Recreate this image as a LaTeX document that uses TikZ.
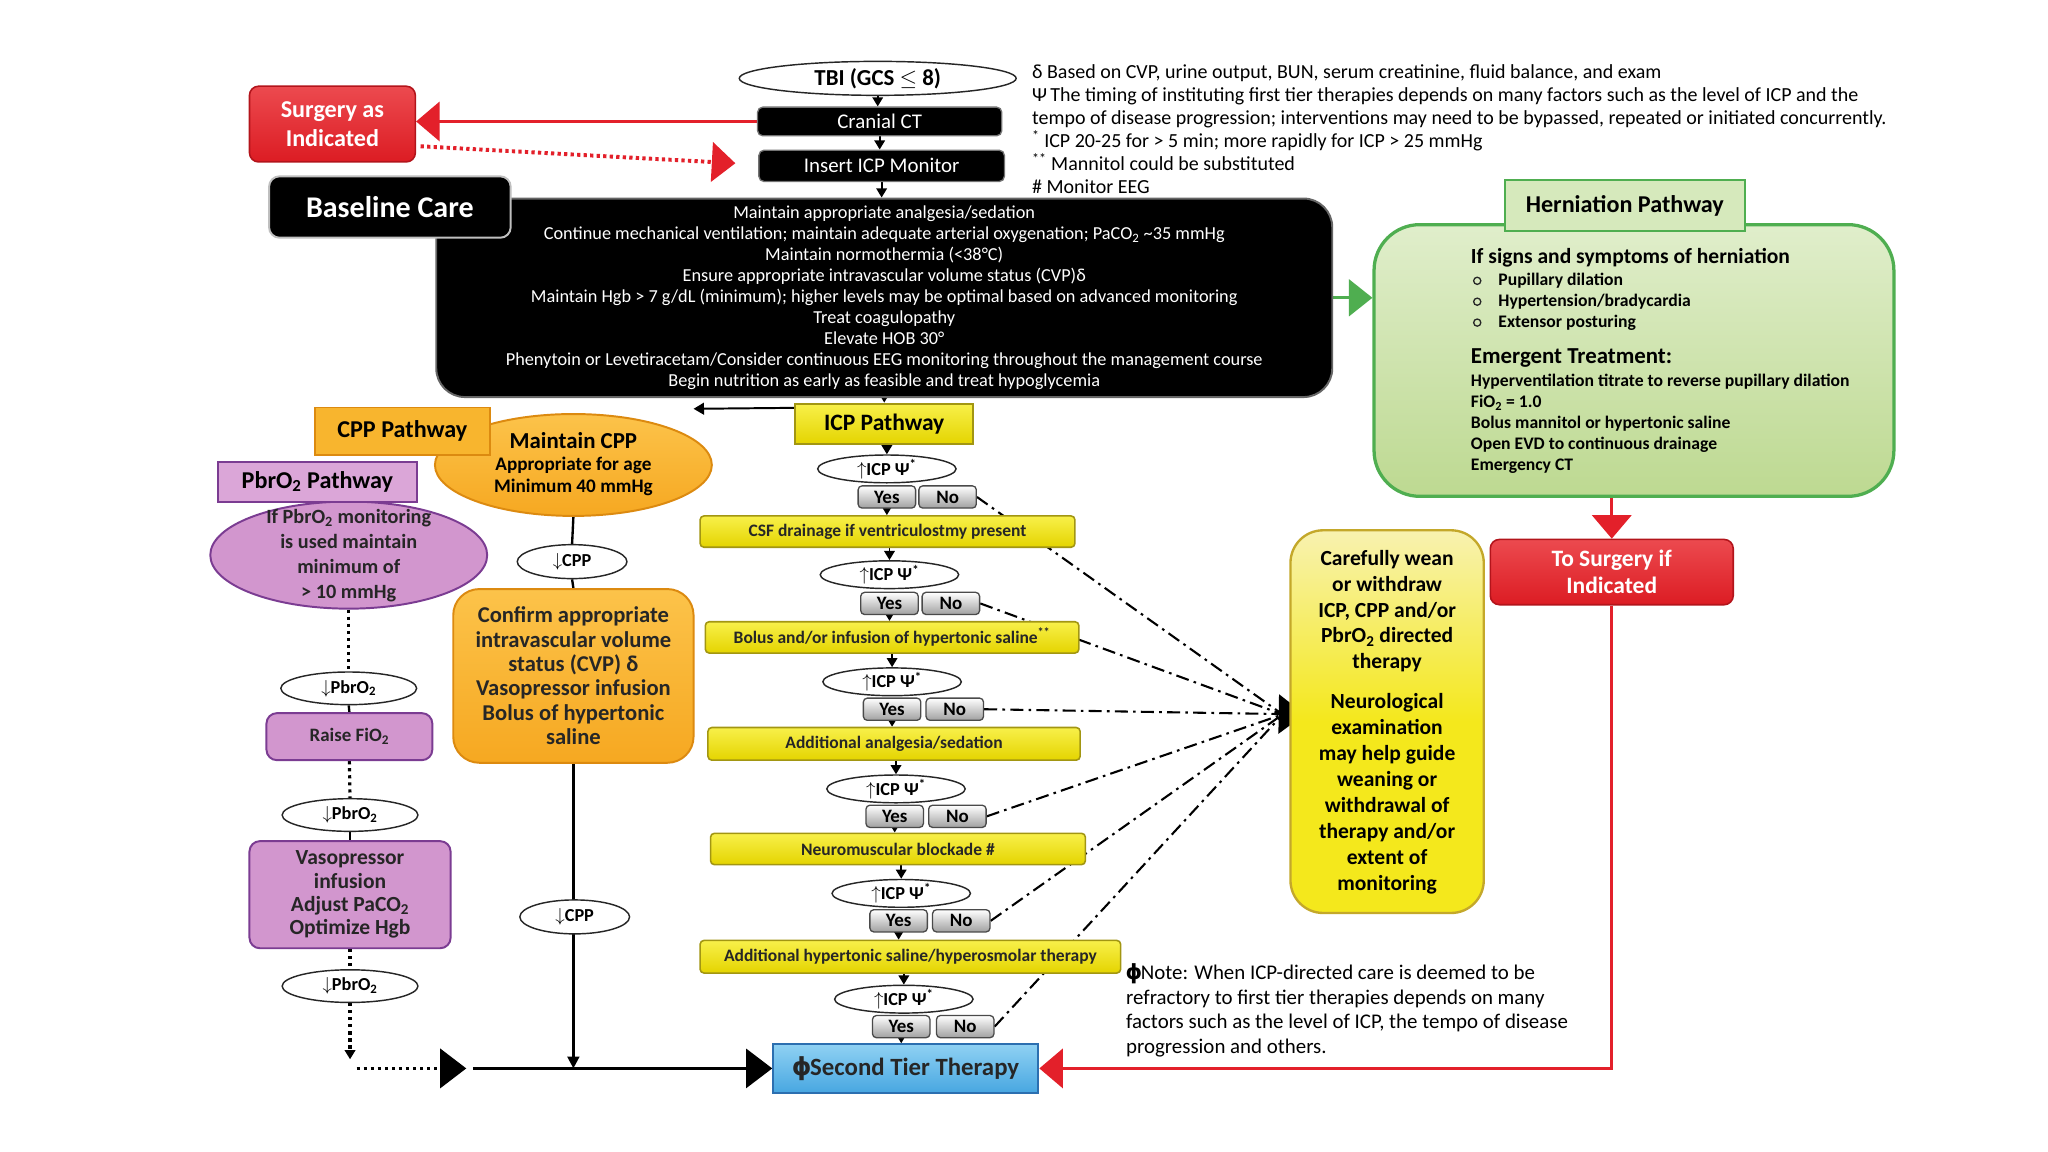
\documentclass[tikz,border=0pt]{standalone}
\usepackage{fontspec}
\setmainfont{Carlito}
\newfontfamily\djv{DejaVu Sans}
\usetikzlibrary{shapes.geometric,arrows.meta,calc}
\pgfdeclarelayer{bgwhite}
\pgfdeclarelayer{lines}
\pgfsetlayers{bgwhite,lines,main}
\newcommand{\fsz}[2]{\fontsize{#1}{#2}\selectfont}
\newcommand{\subtwo}{\textsubscript{2}}
\newcommand{\phisym}{{\djv\bfseries\kern-0.5pt ϕ\kern-1pt}}
\definecolor{redT}{HTML}{EC4A4F}
\definecolor{redB}{HTML}{DC1C23}
\definecolor{redD}{HTML}{B3141B}
\definecolor{redL}{HTML}{E3202A}
\definecolor{ylT}{HTML}{F8F04A}
\definecolor{ylB}{HTML}{E4D400}
\definecolor{ylD}{HTML}{A29612}
\definecolor{ylP}{HTML}{F8F2B0}
\definecolor{ylW}{HTML}{F4E81C}
\definecolor{ylWD}{HTML}{C4A82A}
\definecolor{ynB}{HTML}{A0A0A0}
\definecolor{ynD}{HTML}{4A4A4A}
\definecolor{orgT}{HTML}{FCC34A}
\definecolor{orgB}{HTML}{F6A821}
\definecolor{orgD}{HTML}{DC8A10}
\definecolor{orgL}{HTML}{F8B52E}
\definecolor{purF}{HTML}{D296CE}
\definecolor{purL}{HTML}{DBA6D8}
\definecolor{purD}{HTML}{7B3C92}
\definecolor{grnT}{HTML}{E0EECB}
\definecolor{grnB}{HTML}{BDD991}
\definecolor{grnD}{HTML}{4FAE50}
\definecolor{grnLab}{HTML}{D6E9BC}
\definecolor{bluT}{HTML}{8FD1F3}
\definecolor{bluB}{HTML}{48A7E1}
\definecolor{bluD}{HTML}{2C6FB0}
\tikzset{
 bx/.style={inner sep=0pt, align=center},
 blk/.style={bx, fill=black, draw=black!55, line width=1pt, rounded corners=4pt, text=white, font=\fsz{16}{18}},
 redbox/.style={bx, top color=redT, bottom color=redB, draw=redD, line width=1.2pt, rounded corners=7pt, text=white, font=\bfseries\fsz{18.5}{22}},
 ybar/.style={bx, top color=ylT, bottom color=ylB, draw=ylD, line width=1.2pt, rounded corners=3pt, font=\bfseries\fsz{13.4}{15}, text=black!85},
 yn/.style={bx, top color=white, bottom color=ynB, draw=ynD, line width=1pt, rounded corners=3pt, minimum width=44, minimum height=17, font=\bfseries\fsz{14.5}{15}},
 oval/.style={bx, ellipse, draw=black!85, line width=1.1pt, fill=white},
 icpe/.style={oval, minimum width=106, minimum height=20, font=\bfseries\fsz{14}{15}},
 pbre/.style={oval, minimum width=104, minimum height=25, font=\bfseries\fsz{14}{15}},
 cppe/.style={oval, minimum width=84, minimum height=26, font=\bfseries\fsz{14}{15}},
 purbox/.style={bx, fill=purF, draw=purD, line width=1.5pt, rounded corners=8pt, font=\bfseries\fsz{16.5}{17.8}, text=black!85},
 orgfill/.style={top color=orgT, bottom color=orgB, draw=orgD, line width=1.5pt},
 labbox/.style={bx, line width=1.5pt, font=\bfseries\fsz{18.5}{20}},
 txtw/.style={inner sep=0pt, anchor=west, align=left},
 fnote/.style={txtw, font=\fsz{15.3}{17.6}},
 htext/.style={txtw, font=\bfseries\fsz{13.5}{16.2}},
 conn/.style={line width=1.5pt, -{Triangle[length=7pt,width=8pt]}},
 solidln/.style={line width=1.8pt},
 dotln/.style={line width=2.4pt, dash pattern=on 2.4pt off 3pt},
 ddot/.style={line width=1.6pt, dash pattern=on 10pt off 4pt on 2pt off 4pt},
 bigblk/.style={-{Triangle[length=20pt,width=30pt]}},
 redln/.style={line width=2.4pt, draw=redL},
 bigred/.style={-{Triangle[length=18pt,width=30pt]}},
}
\begin{document}
\begin{tikzpicture}[x=1pt,y=-1pt]
\useasboundingbox (0,0) rectangle (1568,882);
\begin{pgfonlayer}{bgwhite}
\fill[white] (0,0) rectangle (1568,882);
\end{pgfonlayer}

% ---------- top ----------
\node[oval, minimum width=212, minimum height=26, font=\bfseries\fsz{17.5}{20}] (tbi) at (672,60) {TBI (GCS $\leq$ 8)};
\node[blk, minimum width=187, minimum height=22] (ct) at (673.5,93) {Cranial CT};
\node[blk, minimum width=188, minimum height=24] (ins) at (675,127) {Insert ICP Monitor};
\node[redbox, minimum width=127, minimum height=58] (surg) at (254.5,95) {Surgery as\\Indicated};

\node[fnote] (fn) at (790,99) {δ Based on CVP, urine output, BUN, serum creatinine, fluid balance, and exam\\
Ψ\,The timing of instituting first tier therapies depends on many factors such as the level of ICP and the\\
tempo of disease progression; interventions may need to be bypassed, repeated or initiated concurrently.\\
\textsuperscript{*} ICP 20-25 for > 5 min; more rapidly for ICP > 25 mmHg\\
\textsuperscript{**} Mannitol could be substituted\\
\# Monitor EEG};

% ---------- baseline ----------
\node[bx, fill=black, draw=black!60, line width=1.5pt, rounded corners=22pt, minimum width=686, minimum height=152, text=white, font=\fsz{14}{16.1}] (base) at (677,228) {Maintain appropriate analgesia/sedation\\
Continue mechanical ventilation; maintain adequate arterial oxygenation; PaCO\subtwo{} \textasciitilde35 mmHg\\
Maintain normothermia (<38°C)\\
Ensure appropriate intravascular volume status (CVP)δ\\
Maintain Hgb > 7 g/dL (minimum); higher levels may be optimal based on advanced monitoring\\
Treat coagulopathy\\
Elevate HOB 30°\\
Phenytoin or Levetiracetam/Consider continuous EEG monitoring throughout the management course\\
Begin nutrition as early as feasible and treat hypoglycemia};
\node[blk, rounded corners=8pt, minimum width=185, minimum height=47, font=\bfseries\fsz{23}{26}, draw=black!25, line width=1.5pt] (bcare) at (298.5,158.5) {Baseline Care};

% ---------- herniation ----------
\node[bx, rounded corners=35pt, minimum width=398, minimum height=208, top color=grnT, bottom color=grnB, draw=grnD, line width=2.5pt] (hern) at (1251,276) {};
\node[labbox, minimum width=184, minimum height=39, fill=grnLab, draw=grnD] (hlab) at (1244,157.5) {Herniation Pathway};
\node[txtw, font=\bfseries\fsz{16.5}{18}] (hsig) at (1126,197) {If signs and symptoms of herniation};
\node[circle, draw=black!85, line width=1pt, minimum size=5.5, inner sep=0pt] (hb1) at (1131,215) {};
\node[circle, draw=black!85, line width=1pt, minimum size=5.5, inner sep=0pt] (hb2) at (1131,231) {};
\node[circle, draw=black!85, line width=1pt, minimum size=5.5, inner sep=0pt] (hb3) at (1131,247) {};
\node[htext, font=\bfseries\fsz{13.5}{16}] (hlist) at (1147,231) {Pupillary dilation\\Hypertension/bradycardia\\Extensor posturing};
\node[txtw, font=\bfseries\fsz{17.5}{19}] (hem) at (1126,274) {Emergent Treatment:};
\node[htext] (htreat) at (1126,324.5) {Hyperventilation titrate to reverse pupillary dilation\\
FiO\subtwo{} = 1.0\\
Bolus mannitol or hypertonic saline\\
Open EVD to continuous drainage\\
Emergency CT};
\node[redbox, minimum width=186, minimum height=50, font=\bfseries\fsz{18}{21}] (tosurg) at (1234,438) {To Surgery if\\Indicated};

% ---------- CPP / PbrO2 ----------
\node[bx, ellipse, orgfill, minimum width=212, minimum height=78] (mcpp) at (439,356) {};
\node[bx, font=\bfseries\fsz{17.5}{20}] (mcpp1) at (439,337) {Maintain CPP};
\node[bx, font=\bfseries\fsz{14.7}{17}] (mcpp2) at (439,356) {Appropriate for age};
\node[bx, font=\bfseries\fsz{14.7}{17}] (mcpp3) at (439,373) {Minimum 40 mmHg};
\node[labbox, minimum width=134, minimum height=36, fill=orgL, draw=orgD] (cpplab) at (308,330) {CPP Pathway};
\node[bx, ellipse, fill=purF, draw=purD, line width=1.5pt, minimum width=212, minimum height=82] (pe) at (267,425) {};
\node[bx, font=\bfseries\fsz{15.5}{19}, text=black!85] (pet) at (267,425.5) {If PbrO\subtwo{} monitoring\\is used maintain\\minimum of\\> 10 mmHg};
\node[labbox, minimum width=152, minimum height=30, fill=purL, draw=purD] (plab) at (243,369) {PbrO\subtwo{} Pathway};
\node[pbre] (p1) at (267,527) {$\downarrow$PbrO\subtwo};
\node[purbox, minimum width=127, minimum height=36, font=\bfseries\fsz{14.5}{16}] (raise) at (267.5,564) {Raise FiO\subtwo};
\node[pbre] (p2) at (268,624) {$\downarrow$PbrO\subtwo};
\node[purbox, minimum width=154, minimum height=82] (vaso) at (268,685) {Vasopressor\\infusion\\Adjust PaCO\subtwo\\Optimize Hgb};
\node[pbre] (p3) at (268,755) {$\downarrow$PbrO\subtwo};
\node[cppe] (dc1) at (438,430) {$\downarrow$CPP};
\node[bx, orgfill, rounded corners=20pt, minimum width=184, minimum height=133, font=\bfseries\fsz{17.3}{18.7}, text=black!85] (conf) at (439,517.5) {Confirm appropriate\\intravascular volume\\status (CVP) δ\\Vasopressor infusion\\Bolus of hypertonic\\saline};
\node[cppe] (dc2) at (440,702) {$\downarrow$CPP};

% ---------- ICP column ----------
\node[labbox, minimum width=136, minimum height=31, top color=ylT, bottom color=ylB, draw=ylD, font=\bfseries\fsz{18}{20}] (icpp) at (677,324.5) {ICP Pathway};
\node[icpe] (e1) at (679,359) {$\uparrow$ICP Ψ\textsuperscript{*}};
\node[yn] (yes1) at (679,380.5) {Yes};
\node[yn] (no1) at (725.5,380.5) {No};
\node[ybar, minimum width=287, minimum height=24] (b1) at (679.5,407) {CSF drainage if ventriculostmy present};
\node[icpe] (e2) at (681,440) {$\uparrow$ICP Ψ\textsuperscript{*}};
\node[yn] (yes2) at (681,462) {Yes};
\node[yn] (no2) at (728,462) {No};
\node[ybar, minimum width=286, minimum height=24] (b2) at (683,488) {Bolus and/or infusion of hypertonic saline\textsuperscript{**}};
\node[icpe] (e3) at (683,522) {$\uparrow$ICP Ψ\textsuperscript{*}};
\node[yn] (yes3) at (683,543) {Yes};
\node[yn] (no3) at (731,543) {No};
\node[ybar, minimum width=285, minimum height=25] (b3) at (684.5,569.5) {Additional analgesia/sedation};
\node[icpe] (e4) at (686,604) {$\uparrow$ICP Ψ\textsuperscript{*}};
\node[yn] (yes4) at (685,625) {Yes};
\node[yn] (no4) at (733,625) {No};
\node[ybar, minimum width=287, minimum height=24] (b4) at (687.5,650) {Neuromuscular blockade \#};
\node[icpe] (e5) at (690,684) {$\uparrow$ICP Ψ\textsuperscript{*}};
\node[yn] (yes5) at (688,705) {Yes};
\node[yn] (no5) at (736,705) {No};
\node[ybar, minimum width=322, minimum height=25] (b5) at (697,732.5) {Additional hypertonic saline/hyperosmolar therapy};
\node[icpe] (e6) at (692,765) {$\uparrow$ICP Ψ\textsuperscript{*}};
\node[yn] (yes6) at (690,786) {Yes};
\node[yn] (no6) at (739,786) {No};
\node[bx, top color=bluT, bottom color=bluB, draw=bluD, line width=1.5pt, minimum width=203, minimum height=37, font=\bfseries\fsz{19}{21}, text=black!85] (second) at (693.5,818) {\phisym Second Tier Therapy};

% ---------- right yellow box ----------
\node[bx, rounded corners=25pt, minimum width=148, minimum height=293, top color=ylP, bottom color=ylW, middle color=ylW, draw=ylWD, line width=1.8pt] (wean) at (1062,552.5) {};
\node[bx, font=\bfseries\fsz{16.5}{19.6}] (wean1) at (1062,468) {Carefully wean\\or withdraw\\ICP, CPP and/or\\PbrO\subtwo{} directed\\therapy};
\node[bx, font=\bfseries\fsz{16.5}{19.9}] (wean2) at (1062,607.5) {Neurological\\examination\\may help guide\\weaning or\\withdrawal of\\therapy and/or\\extent of\\monitoring};

\node[txtw, font=\fsz{16}{19}] (note) at (862,773.5) {\phisym Note: When ICP-directed care is deemed to be\\
refractory to first tier therapies depends on many\\
factors such as the level of ICP, the tempo of disease\\
progression and others.};

% ---------- coordinates ----------
\coordinate (dtip) at (563,125);
\coordinate (dstart) at (322,112);
\coordinate (cppin) at (531,313);
\coordinate (hub) at (982,547);
\coordinate (tip) at (999,547);
\coordinate (pd) at (268,811);
\coordinate (pa) at (273,818);
\coordinate (pb) at (357,818);
\coordinate (hs) at (362,818);

% ---------- connectors ----------
\begin{pgfonlayer}{lines}
\draw[conn] (tbi.south) -- (tbi.south |- ct.north);
\draw[conn] (ct.south) -- (ct.south |- ins.north);
\draw[conn] (ins.south) -- (ins.south |- base.north);
\draw[redln, bigred] (ct.west) -- (surg.east |- ct.west);
\draw[redL, line width=3pt, dash pattern=on 2.5pt off 2.5pt, bigred] (dstart) -- (dtip);
\draw[grnD, line width=2.5pt, -{Triangle[length=18pt,width=28pt]}] (base.east) -- (base.east -| hern.west);
\draw[redln, bigred] (hern.south -| tosurg.north) -- (tosurg.north);
\draw[redln, bigred] (tosurg.south) |- (second.east);

\draw[conn] (base.south) -- (icpp.north);
\draw[line width=1.5pt, -{Triangle[length=8pt,width=9pt]}] ([yshift=-4pt]icpp.north west) -- (cppin);

% ICP chain
\draw[conn] (icpp.south -| e1.north) -- (e1.north);
\draw[conn] (yes1.south) -- (yes1.south |- b1.north);
\draw[conn] (e2.north |- b1.south) -- (e2.north);
\draw[conn] (yes2.south) -- (yes2.south |- b2.north);
\draw[conn] (e3.north |- b2.south) -- (e3.north);
\draw[conn] (yes3.south) -- (yes3.south |- b3.north);
\draw[conn] (e4.north |- b3.south) -- (e4.north);
\draw[conn] (yes4.south) -- (yes4.south |- b4.north);
\draw[conn] (e5.north |- b4.south) -- (e5.north);
\draw[conn] (yes5.south) -- (yes5.south |- b5.north);
\draw[conn] (e6.north |- b5.south) -- (e6.north);
\draw[conn] (yes6.south) -- (yes6.south |- second.north);

% dash-dot lines to the weaning box
\draw[ddot] (no1.east) -- (hub);
\draw[ddot] (no2.east) -- (hub);
\draw[ddot, bigblk] (no3.east) -- (tip);
\draw[ddot] (no4.east) -- (hub);
\draw[ddot] (no5.east) -- (hub);
\draw[ddot] (no6.east) -- (hub);

% CPP column
\draw[solidln] (mcpp.south) -- (dc1.north);
\draw[solidln] (dc1.south) -- (conf.north);
\draw[solidln, -{Triangle[length=9pt,width=9pt]}] (conf.south) -- (conf.south |- second.west);
\draw[solidln, bigblk] (hs) -- (second.west);

% PbrO2 column
\draw[dotln] (pe.south) -- (p1.north);
\draw[solidln] (p1.south) -- (raise.north);
\draw[dotln] (raise.south) -- (p2.north);
\draw[solidln] (p2.south) -- (vaso.north);
\draw[dotln] (vaso.south) -- (p3.north);
\draw[dotln, -{Triangle[length=7pt,width=8pt]}] (p3.south) -- (pd);
\draw[dotln, bigblk] (pa) -- (pb);
\end{pgfonlayer}
\end{tikzpicture}
\end{document}
